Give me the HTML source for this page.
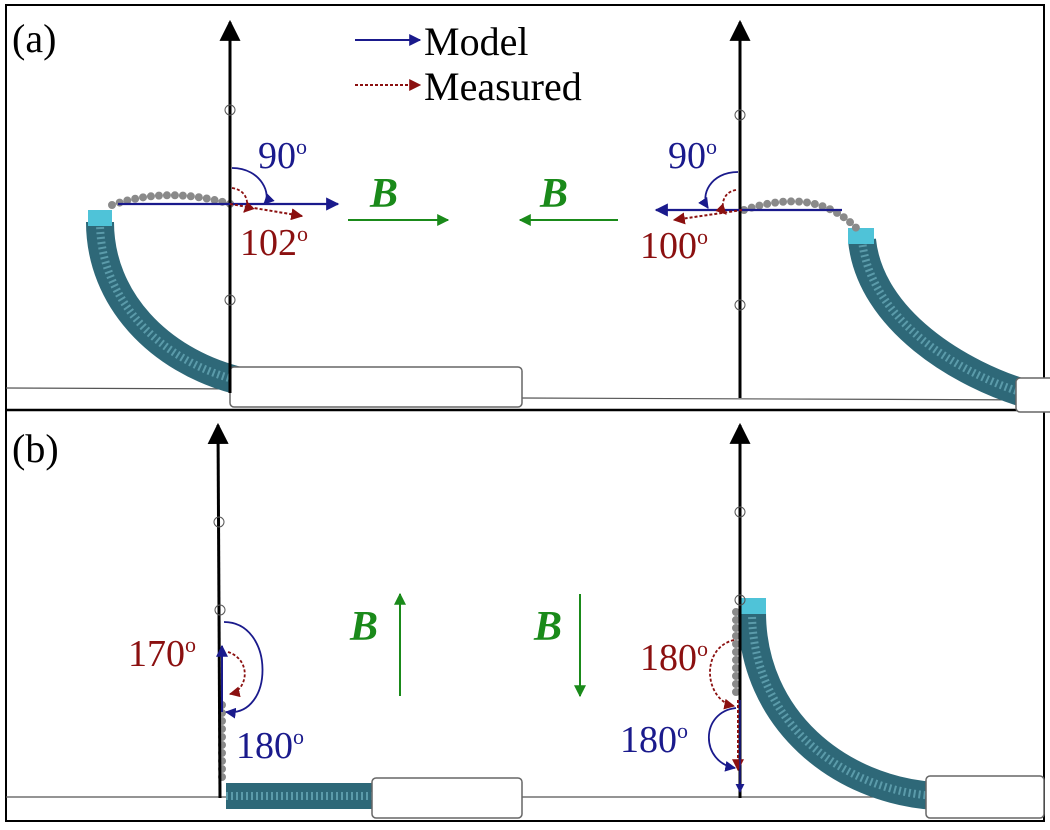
<!DOCTYPE html>
<html><head><meta charset="utf-8"><style>
html,body{margin:0;padding:0;background:#fff;}
svg{display:block;}
text{font-family:"Liberation Serif",serif;}
</style></head><body>
<svg width="1050" height="830" viewBox="0 0 1050 830">
<defs>
<marker id="ab" viewBox="0 0 10 10" refX="9" refY="5" markerWidth="7" markerHeight="7" orient="auto"><path d="M0,0L10,5L0,10z" fill="#000"/></marker>
<marker id="an" viewBox="0 0 10 10" refX="9" refY="5" markerWidth="6" markerHeight="6" orient="auto"><path d="M0,0L10,5L0,10z" fill="#1a1a8c"/></marker>
<marker id="ar" viewBox="0 0 10 10" refX="9" refY="5" markerWidth="6" markerHeight="6" orient="auto"><path d="M0,0L10,5L0,10z" fill="#8b1010"/></marker>
<marker id="ag" viewBox="0 0 10 10" refX="9" refY="5" markerWidth="6" markerHeight="6" orient="auto"><path d="M0,0L10,5L0,10z" fill="#1a8a1a"/></marker>
</defs>
<rect x="0" y="0" width="1050" height="830" fill="#fff"/>
<rect x="6" y="5" width="1038" height="816" fill="none" stroke="#000" stroke-width="2"/>
<line x1="6" y1="410" x2="1044" y2="410" stroke="#000" stroke-width="2.5"/>
<line x1="6" y1="388" x2="520" y2="390" stroke="#555" stroke-width="1.2"/>
<line x1="520" y1="398" x2="1044" y2="400" stroke="#555" stroke-width="1.2"/>
<line x1="6" y1="797" x2="520" y2="797" stroke="#555" stroke-width="1.2"/>
<line x1="520" y1="797" x2="1044" y2="797" stroke="#555" stroke-width="1.2"/>

<g>
<path d="M100,222 C100,300 160,360 236,380" stroke="#2e6878" stroke-width="28" fill="none"/>
<path d="M100,222 C100,300 160,360 236,380" stroke="#6fb0bf" stroke-width="8" fill="none" stroke-dasharray="2 3" opacity="0.7"/>
<rect x="88" y="210" width="24" height="16" fill="#4fc3d8"/>
<rect x="230" y="367" width="292" height="40" rx="4" fill="#fff" stroke="#666" stroke-width="1.5"/>
<path d="M112,205 C150,192 190,192 234,205" stroke="#8a8a8a" stroke-width="8" fill="none" stroke-dasharray="0 8" stroke-linecap="round"/>
<line x1="230" y1="393" x2="230" y2="22" stroke="#000" stroke-width="3" marker-end="url(#ab)"/>
<circle cx="230" cy="110" r="5" fill="none" stroke="#555"/><circle cx="230" cy="300" r="5" fill="none" stroke="#555"/>
<line x1="118" y1="204" x2="338" y2="204" stroke="#1a1a8c" stroke-width="2.2" marker-end="url(#an)"/>
<line x1="230" y1="204" x2="302" y2="216" stroke="#8b1010" stroke-width="2" stroke-dasharray="3 2" marker-end="url(#ar)"/>
<path d="M232,168 C262,168 272,196 264,204" stroke="#1a1a8c" stroke-width="1.8" fill="none" marker-end="url(#an)"/>
<path d="M232,188 C248,190 250,206 244,212" stroke="#8b1010" stroke-width="1.8" fill="none" stroke-dasharray="3 2" marker-end="url(#ar)"/>
<text x="258" y="168" font-size="38" fill="#1a1a8c">90<tspan font-size="22" dy="-14">o</tspan></text>
<text x="240" y="255" font-size="38" fill="#8b1010">102<tspan font-size="22" dy="-14">o</tspan></text>
<line x1="348" y1="220" x2="448" y2="220" stroke="#1a8a1a" stroke-width="2" marker-end="url(#ag)"/>
<text x="370" y="207" font-size="42" font-style="italic" font-weight="bold" fill="#1a8a1a">B</text>
</g>

<g>
<path d="M862,240 C870,320 960,375 1030,395" stroke="#2e6878" stroke-width="28" fill="none"/>
<path d="M862,240 C870,320 960,375 1030,395" stroke="#6fb0bf" stroke-width="8" fill="none" stroke-dasharray="2 3" opacity="0.7"/>
<rect x="848" y="228" width="26" height="16" fill="#4fc3d8"/>
<rect x="1016" y="378" width="40" height="34" rx="4" fill="#fff" stroke="#666" stroke-width="1.5"/>
<path d="M744,210 C790,195 830,198 860,232" stroke="#8a8a8a" stroke-width="8" fill="none" stroke-dasharray="0 8" stroke-linecap="round"/>
<line x1="740" y1="398" x2="740" y2="22" stroke="#000" stroke-width="3" marker-end="url(#ab)"/>
<circle cx="740" cy="115" r="5" fill="none" stroke="#555"/><circle cx="740" cy="305" r="5" fill="none" stroke="#555"/>
<line x1="842" y1="210" x2="656" y2="210" stroke="#1a1a8c" stroke-width="2.2" marker-end="url(#an)"/>
<line x1="742" y1="210" x2="674" y2="220" stroke="#8b1010" stroke-width="2" stroke-dasharray="3 2" marker-end="url(#ar)"/>
<path d="M738,172 C710,172 700,196 708,208" stroke="#1a1a8c" stroke-width="1.8" fill="none" marker-end="url(#an)"/>
<path d="M736,190 C722,192 720,208 726,214" stroke="#8b1010" stroke-width="1.8" fill="none" stroke-dasharray="3 2" marker-end="url(#ar)"/>
<text x="668" y="168" font-size="38" fill="#1a1a8c">90<tspan font-size="22" dy="-14">o</tspan></text>
<text x="640" y="258" font-size="38" fill="#8b1010">100<tspan font-size="22" dy="-14">o</tspan></text>
<line x1="618" y1="220" x2="520" y2="220" stroke="#1a8a1a" stroke-width="2" marker-end="url(#ag)"/>
<text x="540" y="207" font-size="42" font-style="italic" font-weight="bold" fill="#1a8a1a">B</text>
</g>

<g>
<line x1="355" y1="40" x2="420" y2="40" stroke="#1a1a8c" stroke-width="2" marker-end="url(#an)"/>
<text x="424" y="55" font-size="40" fill="#000">Model</text>
<line x1="355" y1="85" x2="420" y2="85" stroke="#8b1010" stroke-width="2" stroke-dasharray="3 2" marker-end="url(#ar)"/>
<text x="424" y="100" font-size="40" fill="#000">Measured</text>
</g>
<text x="12" y="52" font-size="40">(a)</text>
<text x="12" y="462" font-size="40">(b)</text>

<g>
<path d="M226,796 L380,796" stroke="#2e6878" stroke-width="26" fill="none"/>
<path d="M226,796 L380,796" stroke="#6fb0bf" stroke-width="8" fill="none" stroke-dasharray="2 3" opacity="0.7"/>
<rect x="372" y="778" width="150" height="40" rx="4" fill="#fff" stroke="#666" stroke-width="1.5"/>
<path d="M222,705 L222,784" stroke="#8a8a8a" stroke-width="8" fill="none" stroke-dasharray="0 8" stroke-linecap="round"/>
<line x1="220" y1="798" x2="218" y2="425" stroke="#000" stroke-width="3" marker-end="url(#ab)"/>
<circle cx="219" cy="522" r="5" fill="none" stroke="#555"/><circle cx="220" cy="610" r="5" fill="none" stroke="#555"/>
<line x1="222" y1="712" x2="222" y2="646" stroke="#1a1a8c" stroke-width="2" marker-end="url(#an)"/>
<path d="M224,622 C275,622 275,718 226,712" stroke="#1a1a8c" stroke-width="1.8" fill="none" marker-end="url(#an)"/>
<path d="M228,652 C252,660 248,690 230,694" stroke="#8b1010" stroke-width="1.8" fill="none" stroke-dasharray="3 2" marker-end="url(#ar)"/>
<text x="128" y="666" font-size="38" fill="#8b1010">170<tspan font-size="22" dy="-14">o</tspan></text>
<text x="236" y="758" font-size="38" fill="#1a1a8c">180<tspan font-size="22" dy="-14">o</tspan></text>
<line x1="400" y1="696" x2="400" y2="594" stroke="#1a8a1a" stroke-width="2" marker-end="url(#ag)"/>
<text x="350" y="640" font-size="42" font-style="italic" font-weight="bold" fill="#1a8a1a">B</text>
</g>

<g>
<path d="M752,612 C752,720 840,790 935,796" stroke="#2e6878" stroke-width="28" fill="none"/>
<path d="M752,612 C752,720 840,790 935,796" stroke="#6fb0bf" stroke-width="8" fill="none" stroke-dasharray="2 3" opacity="0.7"/>
<rect x="740" y="598" width="26" height="16" fill="#4fc3d8"/>
<rect x="926" y="776" width="118" height="42" rx="4" fill="#fff" stroke="#666" stroke-width="1.5"/>
<path d="M736,612 L736,700" stroke="#8a8a8a" stroke-width="8" fill="none" stroke-dasharray="0 8" stroke-linecap="round"/>
<line x1="740" y1="798" x2="740" y2="425" stroke="#000" stroke-width="3" marker-end="url(#ab)"/>
<circle cx="740" cy="512" r="5" fill="none" stroke="#555"/><circle cx="740" cy="600" r="5" fill="none" stroke="#555"/>
<line x1="738" y1="700" x2="738" y2="770" stroke="#8b1010" stroke-width="2" stroke-dasharray="3 2" marker-end="url(#ar)"/>
<line x1="740" y1="700" x2="740" y2="792" stroke="#1a1a8c" stroke-width="1.5" marker-end="url(#an)"/>
<path d="M734,640 C700,648 704,700 734,706" stroke="#8b1010" stroke-width="1.8" fill="none" stroke-dasharray="3 2" marker-end="url(#ar)"/>
<path d="M736,708 C700,712 700,762 735,768" stroke="#1a1a8c" stroke-width="1.8" fill="none" marker-end="url(#an)"/>
<text x="640" y="670" font-size="38" fill="#8b1010">180<tspan font-size="22" dy="-14">o</tspan></text>
<text x="620" y="752" font-size="38" fill="#1a1a8c">180<tspan font-size="22" dy="-14">o</tspan></text>
<line x1="580" y1="594" x2="580" y2="696" stroke="#1a8a1a" stroke-width="2" marker-end="url(#ag)"/>
<text x="534" y="640" font-size="42" font-style="italic" font-weight="bold" fill="#1a8a1a">B</text>
</g>
</svg>
</body></html>
